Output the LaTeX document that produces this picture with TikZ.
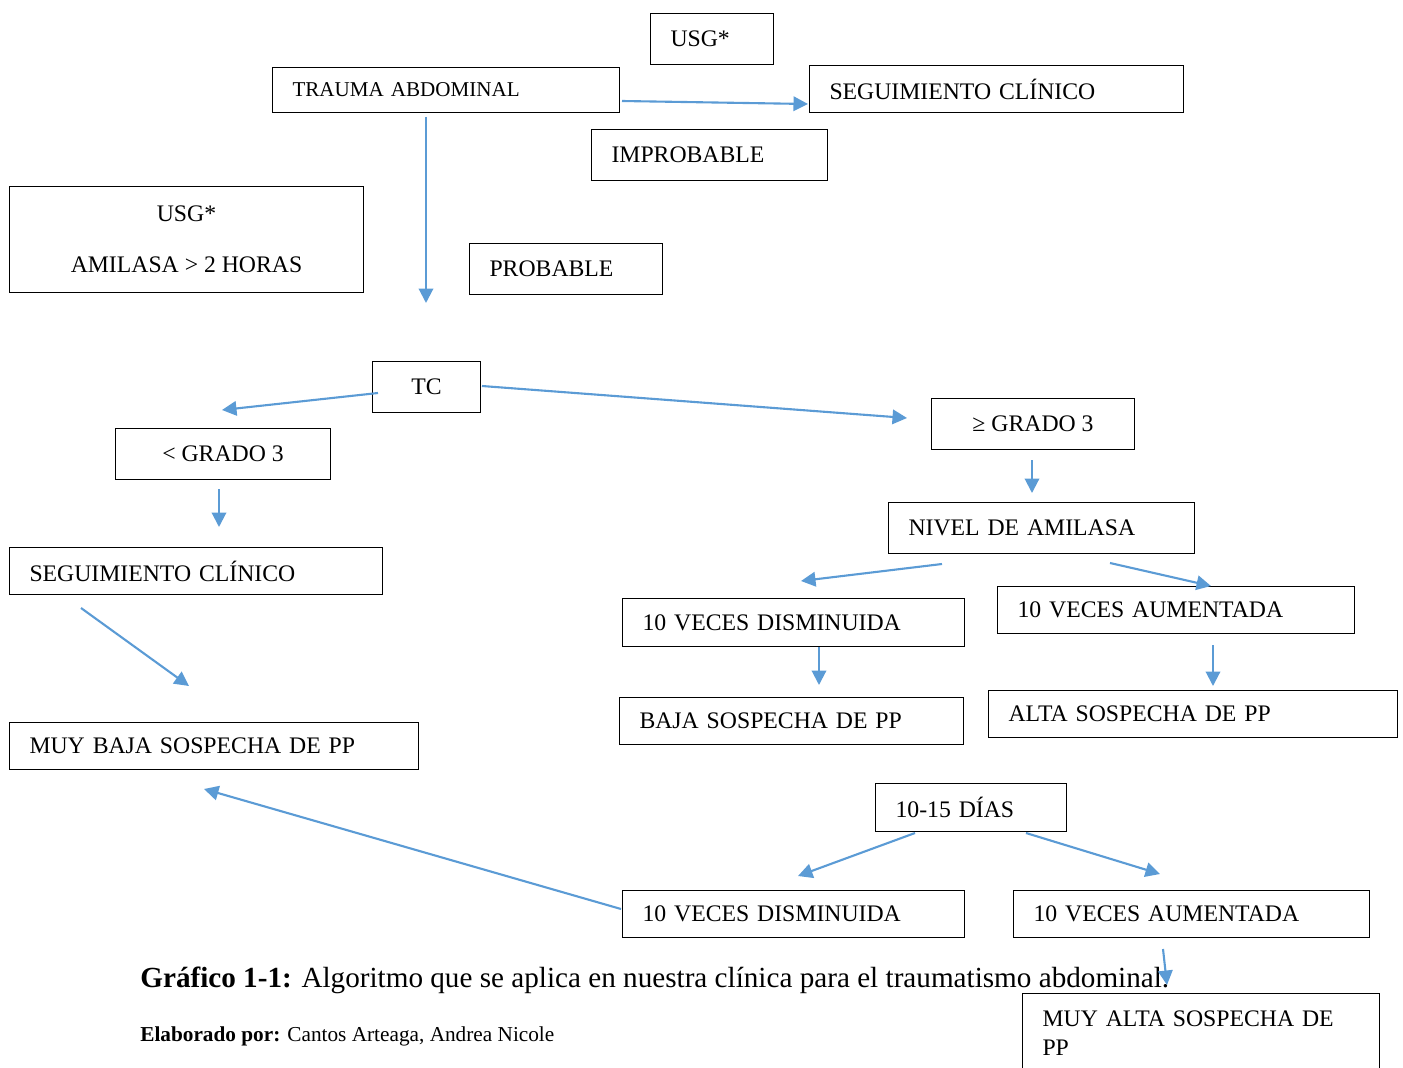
\documentclass[tikz,border=0pt]{standalone}
\usepackage{fontspec}
\setmainfont{Liberation Serif}
\usetikzlibrary{arrows.meta}
\definecolor{azul}{RGB}{91,155,213}

\begin{document}
\begin{tikzpicture}[x=0.2mm, y=-0.2mm,
  caja/.style={draw, line width=0.6pt, anchor=north west, inner xsep=4mm, inner ysep=0pt, align=left, font=\fontsize{13.5}{16}\selectfont},
  cajac/.style={caja, align=center, inner xsep=0pt},
  flecha/.style={draw=azul, line width=1.2pt, -{Triangle[length=2.9mm, width=2.9mm]}}]
  \useasboundingbox (0,0) rectangle (1403,1068);
  \clip (0,0) rectangle (1403,1068);
  % cajas
  \node (usgA) [caja, text width=16.6mm, minimum height=10.2mm] at (650,13) {USG*};
  \node (trauma) [caja, text width=61.4mm, minimum height=9mm, font=\fontsize{12}{14}\selectfont] at (272,67) {TRAUMA ABDOMINAL};
  \node (seguiA) [caja, text width=66.8mm, minimum height=9.4mm] at (809,65) {SEGUIMIENTO CLÍNICO};
  \node (improb) [caja, text width=39.2mm, minimum height=10.2mm] at (591,129) {IMPROBABLE};
  \node (usgB) [cajac, minimum width=70.8mm, minimum height=21.2mm] at (9,186) {USG*\\[13pt]AMILASA > 2 HORAS};
  \node (prob) [caja, text width=30.6mm, minimum height=10.2mm] at (469,243) {PROBABLE};
  \node (tc) [cajac, minimum width=21.6mm, minimum height=10.2mm] at (372,361) {TC};
  \node (gradoMenor) [cajac, minimum width=43mm, minimum height=10.2mm] at (115,428) {< GRADO 3};
  \node (gradoMayor) [cajac, minimum width=40.6mm, minimum height=10.2mm] at (931,398) {≥ GRADO 3};
  \node (nivel) [caja, text width=53.2mm, minimum height=10.2mm] at (888,502) {NIVEL DE AMILASA};
  \node (seguiB) [caja, text width=66.6mm, minimum height=9.4mm] at (9,547) {SEGUIMIENTO CLÍNICO};
  \node (dismA) [caja, text width=60.4mm, minimum height=9.6mm] at (622,598) {10 VECES DISMINUIDA};
  \node (aumA) [caja, text width=63.4mm, minimum height=9.4mm] at (997,586) {10 VECES AUMENTADA};
  \node (baja) [caja, text width=60.8mm, minimum height=9.4mm] at (619,697) {BAJA SOSPECHA DE PP};
  \node (alta) [caja, text width=73.8mm, minimum height=9.4mm] at (988,690) {ALTA SOSPECHA DE PP};
  \node (muyBaja) [caja, text width=73.8mm, minimum height=9.4mm] at (9,722) {MUY BAJA SOSPECHA DE PP};
  \node (dias) [caja, text width=30.2mm, minimum height=9.6mm] at (875,783) {10-15 DÍAS};
  \node (dismB) [caja, text width=60.4mm, minimum height=9.4mm] at (622,890) {10 VECES DISMINUIDA};
  \node (aumB) [caja, text width=63.2mm, minimum height=9.4mm] at (1013,890) {10 VECES AUMENTADA};
  \node (muyAlta) [caja, text width=63.4mm, inner ysep=3.4mm, font=\fontsize{13.5}{16.4}\selectfont] at (1022,993) {MUY ALTA SOSPECHA DE\\PP\\[8mm]\mbox{}};
  % pie
  \node (grafico) [anchor=base west, inner sep=0pt, font=\fontsize{16.6}{19}\selectfont] at (140,987) {\textbf{Gráfico 1-1:} Algoritmo que se aplica en nuestra clínica para el traumatismo abdominal.};
  \node (elaborado) [anchor=base west, inner sep=0pt, font=\fontsize{12.1}{14}\selectfont] at (140,1041) {\textbf{Elaborado por:} Cantos Arteaga, Andrea Nicole};
  % flechas
  \coordinate (traumaDer) at (622,101);
  \coordinate (seguiAIzq) at (808,104);
  \coordinate (traumaAbajo) at (426,117);
  \coordinate (tcArriba) at (426,303);
  \coordinate (tcIzq) at (378,393);
  \coordinate (menorArriba) at (222,410);
  \coordinate (tcDer) at (482,386);
  \coordinate (mayorIzq) at (907,418);
  \coordinate (mayorAbajo) at (1032,460);
  \coordinate (nivelArriba) at (1032,493);
  \coordinate (menorAbajo) at (219,489);
  \coordinate (seguiBArriba) at (219,527);
  \coordinate (nivelIzq) at (942,564);
  \coordinate (dismAArriba) at (801,581);
  \coordinate (nivelDer) at (1110,563);
  \coordinate (aumAArriba) at (1211,586);
  \coordinate (seguiBAbajo) at (81,608);
  \coordinate (muyBajaArriba) at (189,686);
  \coordinate (dismAAbajo) at (819,647);
  \coordinate (bajaArriba) at (819,685);
  \coordinate (aumAAbajo) at (1213,645);
  \coordinate (altaArriba) at (1213,686);
  \coordinate (dismBIzq) at (621,909);
  \coordinate (muyBajaAbajo) at (204,789);
  \coordinate (diasIzq) at (915,833);
  \coordinate (dismBArriba) at (798,876);
  \coordinate (diasDer) at (1026,833);
  \coordinate (aumBArriba) at (1160,874);
  \coordinate (aumBAbajo) at (1163,949);
  \coordinate (muyAltaArriba) at (1167,985);
  \draw [flecha] (traumaDer) -- (seguiAIzq);
  \draw [flecha] (traumaAbajo) -- (tcArriba);
  \draw [flecha] (tcIzq) -- (menorArriba);
  \draw [flecha] (tcDer) -- (mayorIzq);
  \draw [flecha] (mayorAbajo) -- (nivelArriba);
  \draw [flecha] (menorAbajo) -- (seguiBArriba);
  \draw [flecha] (nivelIzq) -- (dismAArriba);
  \draw [flecha] (nivelDer) -- (aumAArriba);
  \draw [flecha] (seguiBAbajo) -- (muyBajaArriba);
  \draw [flecha] (dismAAbajo) -- (bajaArriba);
  \draw [flecha] (aumAAbajo) -- (altaArriba);
  \draw [flecha] (dismBIzq) -- (muyBajaAbajo);
  \draw [flecha] (diasIzq) -- (dismBArriba);
  \draw [flecha] (diasDer) -- (aumBArriba);
  \draw [flecha] (aumBAbajo) -- (muyAltaArriba);
\end{tikzpicture}
\end{document}
